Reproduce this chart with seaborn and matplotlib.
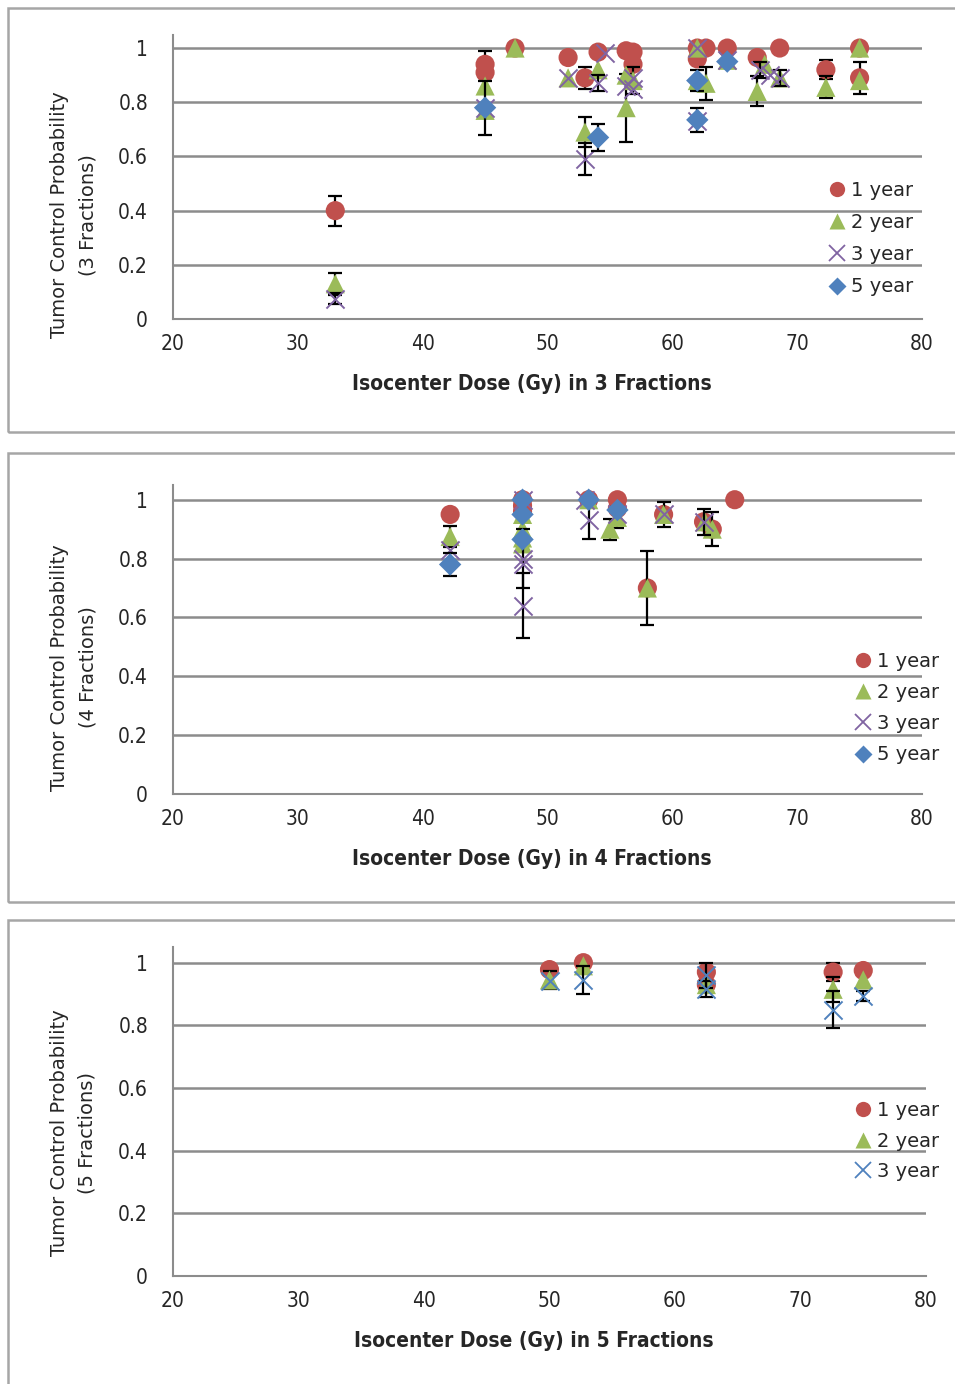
import numpy as np
import pandas as pd
import matplotlib
matplotlib.use("Agg")
import matplotlib.pyplot as plt
import seaborn as sns
from matplotlib.lines import Line2D
from matplotlib.patches import Rectangle

# ---- data: 3 fractions ----
f3_1yr_x = [33, 45, 45, 47.4, 51.65, 53, 54.05, 56.3, 56.85, 56.85, 62, 62, 62.7, 64.4, 66.8, 68.6, 72.3, 75, 75]
f3_1yr_y = [0.40, 0.94, 0.91, 1.0, 0.965, 0.89, 0.985, 0.99, 0.985, 0.94, 1.0, 0.96, 1.0, 1.0, 0.965, 1.0, 0.92, 1.0, 0.89]
f3_1yr_e = [0.055, 0.05, None, None, None, 0.04, None, None, None, None, None, None, None, None, None, None, 0.035, None, 0.06]

f3_2yr_x = [33, 45, 45, 47.4, 51.65, 53, 54.05, 56.3, 56.3, 56.85, 62, 62, 62.7, 64.4, 66.8, 67.4, 68.6, 72.3, 75, 75]
f3_2yr_y = [0.13, 0.86, 0.77, 1.0, 0.89, 0.69, 0.92, 0.78, 0.90, 0.88, 1.0, 0.88, 0.87, 0.955, 0.84, 0.94, 0.89, 0.855, 1.0, 0.88]
f3_2yr_e = [0.04, None, None, None, None, 0.055, None, 0.125, None, 0.05, None, None, 0.06, None, 0.055, None, None, 0.04, None, None]

f3_3yr_x = [33, 45, 51.65, 53, 54.05, 54.6, 56.3, 56.85, 56.85, 62, 62, 64.4, 67.0, 67.8, 68.6]
f3_3yr_y = [0.075, 0.78, 0.89, 0.59, 0.87, 0.98, 0.86, 0.89, 0.85, 1.0, 0.73, 0.955, 0.92, 0.90, 0.89]
f3_3yr_e = [0.02, None, None, 0.06, 0.03, None, None, None, None, None, None, None, 0.03, None, 0.03]

f3_5yr_x = [45, 54.05, 62, 62, 64.4]
f3_5yr_y = [0.78, 0.67, 0.88, 0.735, 0.95]
f3_5yr_e = [0.10, 0.05, 0.04, 0.045, None]

# ---- data: 4 fractions ----
f4_1yr_x = [42.2, 48, 48, 48, 53.3, 55.6, 55.6, 58, 59.3, 62.5, 63.2, 65]
f4_1yr_y = [0.95, 1.0, 0.98, 0.96, 1.0, 1.0, 0.97, 0.70, 0.95, 0.925, 0.90, 1.0]
f4_1yr_e = [None, None, None, None, None, None, None, None, None, None, None, None]

f4_2yr_x = [42.2, 48, 48, 48, 48, 53.3, 55, 55.6, 58, 59.3, 62.6, 63.2]
f4_2yr_y = [0.875, 0.95, 0.90, 0.87, 0.85, 1.0, 0.90, 0.94, 0.70, 0.95, 0.925, 0.90]
f4_2yr_e = [0.035, None, None, None, None, None, 0.036, 0.035, 0.127, 0.043, None, 0.058]

f4_3yr_x = [42.2, 48, 48, 48, 48, 53, 53.3, 55.6, 59.3, 62.5]
f4_3yr_y = [0.83, 1.0, 0.80, 0.78, 0.64, 1.0, 0.93, 0.95, 0.95, 0.925]
f4_3yr_e = [None, None, 0.10, None, 0.11, None, 0.065, None, None, 0.044]

f4_5yr_x = [42.2, 48, 48, 48, 53.3, 55.6]
f4_5yr_y = [0.78, 1.0, 0.95, 0.865, 1.0, 0.965]
f4_5yr_e = [0.04, None, None, None, None, None]

# ---- data: 5 fractions ----
f5_1yr_x = [50, 52.7, 62.5, 62.5, 72.6, 75]
f5_1yr_y = [0.978, 1.0, 0.97, 0.93, 0.97, 0.975]
f5_1yr_e = [None, None, None, None, 0.03, None]

f5_2yr_x = [50, 52.7, 62.5, 72.6, 75]
f5_2yr_y = [0.945, 0.99, 0.93, 0.915, 0.945]
f5_2yr_e = [0.03, None, None, 0.04, None]

f5_3yr_x = [50, 52.7, 62.5, 62.5, 72.6, 75]
f5_3yr_y = [0.94, 0.945, 0.96, 0.915, 0.85, 0.893]
f5_3yr_e = [None, 0.045, 0.04, 0.025, 0.06, 0.016]

RED, GREEN, PURPLE, BLUE = "#C0504D", "#9BBB59", "#8064A2", "#4F81BD"
GRID = "#8C8C8C"

sns.set_theme(style="white")
plt.rcParams["font.family"] = ["DejaVu Sans"]

H = 1384.0
W = 955.0


def draw_series(ax, xs, ys, es, marker, color, size, label):
    df = pd.DataFrame({"dose": xs, "tcp": ys, "err": [np.nan if e is None else e for e in es]})
    eb = df.dropna()
    if len(eb):
        ax.errorbar(eb["dose"], eb["tcp"], yerr=eb["err"], fmt="none", ecolor="black",
                    elinewidth=1.6, capsize=5, capthick=1.6, zorder=3)
    kw = dict(linewidth=1.4) if marker == "x" else dict(edgecolor="none")
    sns.scatterplot(data=df, x="dose", y="tcp", marker=marker, color=color, s=size,
                    ax=ax, zorder=3, label=label, legend=False, **kw)


def style_axis(ax, nfrac, label_y):
    ax.set_xlim(20, 80)
    ax.set_ylim(0, 1.05)
    ax.set_xticks(range(20, 81, 10))
    ax.set_yticks([0, 0.2, 0.4, 0.6, 0.8, 1.0])
    ax.set_yticklabels(["0", "0.2", "0.4", "0.6", "0.8", "1"])
    ax.grid(axis="y", color=GRID, linewidth=1.8)
    ax.grid(axis="x", visible=False)
    for s in ["top", "right"]:
        ax.spines[s].set_visible(False)
    for s in ["left", "bottom"]:
        ax.spines[s].set_color(GRID)
        ax.spines[s].set_linewidth(1.5)
    ax.tick_params(axis="x", length=5, width=1.5, color=GRID, labelsize=15, pad=6)
    ax.tick_params(axis="y", length=0, labelsize=15, pad=18)
    for t in ax.get_xticklabels() + ax.get_yticklabels():
        t.set_stretch("condensed")
    ax.set_xlabel(f"Isocenter Dose (Gy) in {nfrac} Fractions", fontsize=15,
                  fontweight="bold", fontstretch="condensed")
    ax.xaxis.set_label_coords(0.479, -55.0 / (ax.get_position().height * H))
    ax.set_ylabel(f"Tumor Control Probability\n({nfrac} Fractions)", fontsize=14,
                  linespacing=1.6)
    ax.yaxis.set_label_coords(-0.101, label_y)


def legend(ax, handles, anchor, spacing):
    ax.legend(handles=handles, loc="upper left", bbox_to_anchor=anchor, frameon=False,
              handletextpad=0.2, handlelength=1.0, labelspacing=spacing,
              borderaxespad=0, borderpad=0, prop={"size": 14})


def h(marker, color, label, ms=11):
    if marker == "x":
        return Line2D([], [], marker="x", color=color, linestyle="none", markersize=ms,
                      markeredgewidth=1.3, label=label)
    return Line2D([], [], marker=marker, color=color, markeredgecolor="none",
                  linestyle="none", markersize=ms, label=label)


fig = plt.figure(figsize=(9.55, 13.84), dpi=100)

# panel frames
for top, bot in [(8, 432), (453, 902), (920, 1400)]:
    fig.patches.append(Rectangle((8 / W, 1 - bot / H), 1.2, (bot - top) / H,
                                 transform=fig.transFigure, fill=False,
                                 edgecolor="#A6A6A6", linewidth=1.8))

ax1 = fig.add_axes([173 / W, 1 - 319 / H, 749 / W, (319 - 34.5) / H])
ax2 = fig.add_axes([173 / W, 1 - 794 / H, 749 / W, (794 - 485) / H])
ax3 = fig.add_axes([173 / W, 1 - 1276 / H, 753 / W, (1276 - 947) / H])

draw_series(ax1, f3_1yr_x, f3_1yr_y, f3_1yr_e, "o", RED, 190, "1 year")
draw_series(ax1, f3_2yr_x, f3_2yr_y, f3_2yr_e, "^", GREEN, 190, "2 year")
draw_series(ax1, f3_3yr_x, f3_3yr_y, f3_3yr_e, "x", PURPLE, 170, "3 year")
draw_series(ax1, f3_5yr_x, f3_5yr_y, f3_5yr_e, "D", BLUE, 130, "5 year")
style_axis(ax1, 3, 0.366)
legend(ax1, [h("o", RED, "1 year"), h("^", GREEN, "2 year"), h("x", PURPLE, "3 year"),
             h("D", BLUE, "5 year", 9)], (0.874, 0.486), 0.68)

draw_series(ax2, f4_1yr_x, f4_1yr_y, f4_1yr_e, "o", RED, 190, "1 year")
draw_series(ax2, f4_2yr_x, f4_2yr_y, f4_2yr_e, "^", GREEN, 190, "2 year")
draw_series(ax2, f4_3yr_x, f4_3yr_y, f4_3yr_e, "x", PURPLE, 170, "3 year")
draw_series(ax2, f4_5yr_x, f4_5yr_y, f4_5yr_e, "D", BLUE, 130, "5 year")
style_axis(ax2, 4, 0.41)
legend(ax2, [h("o", RED, "1 year"), h("^", GREEN, "2 year"), h("x", PURPLE, "3 year"),
             h("D", BLUE, "5 year", 9)], (0.9085, 0.459), 0.62)

draw_series(ax3, f5_1yr_x, f5_1yr_y, f5_1yr_e, "o", RED, 190, "1 year")
draw_series(ax3, f5_2yr_x, f5_2yr_y, f5_2yr_e, "^", GREEN, 190, "2 year")
draw_series(ax3, f5_3yr_x, f5_3yr_y, f5_3yr_e, "x", BLUE, 170, "3 year")
style_axis(ax3, 5, 0.435)
legend(ax3, [h("o", RED, "1 year"), h("^", GREEN, "2 year"), h("x", BLUE, "3 year")],
       (0.904, 0.532), 0.6)

fig.savefig("out.png", dpi=100)
